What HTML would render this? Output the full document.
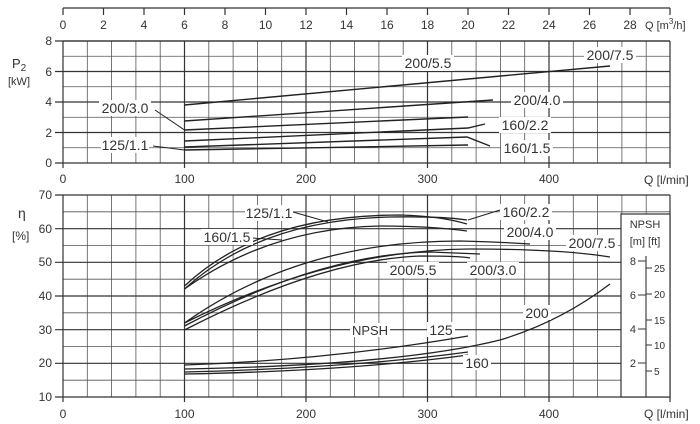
<!DOCTYPE html>
<html><head><meta charset="utf-8"><style>
html,body{margin:0;padding:0;background:#fff}
svg{display:block}
text{font-family:"Liberation Sans",sans-serif;fill:#333}
</style></head><body>
<svg width="700" height="424" viewBox="0 0 700 424" xmlns="http://www.w3.org/2000/svg">
<rect width="700" height="424" fill="#fff"/>
<g stroke="#555" stroke-width="0.8" fill="none">
<path d="M87.3 41V163M111.6 41V163M135.9 41V163M160.2 41V163M208.8 41V163M233.1 41V163M257.4 41V163M281.7 41V163M330.3 41V163M354.6 41V163M378.9 41V163M403.2 41V163M451.8 41V163M476.1 41V163M500.4 41V163M524.7 41V163M573.3 41V163M597.6 41V163M621.9 41V163M646.2 41V163"/>
<path d="M87.3 195V397M111.6 195V397M135.9 195V397M160.2 195V397M208.8 195V397M233.1 195V397M257.4 195V397M281.7 195V397M330.3 195V397M354.6 195V397M378.9 195V397M403.2 195V397M451.8 195V397M476.1 195V397M500.4 195V397M524.7 195V397M573.3 195V397M597.6 195V397M621.9 195V397M646.2 195V397"/>
<path d="M63 56.25H670M63 86.75H670M63 117.25H670M63 147.75H670"/>
<path d="M63 211.8H670M63 245.5H670M63 279.2H670M63 312.8H670M63 346.5H670M63 380.2H670"/>
</g>
<g stroke="#333" stroke-width="1.2" fill="none">
<path d="M184.5 41V163M306 41V163M427.5 41V163M549 41V163M670 41V163M63 41H670"/>
<path d="M55 41H670M55 71.5H670M55 102H670M55 132.5H670M55 163H670M63 41V168"/>
<path d="M184.5 195V402M306 195V397M427.5 195V397M549 195V402M670 195V402M63 195V402M306 397V402M427.5 397V402"/>
<path d="M55 195H670M55 228.7H670M55 262.3H670M55 296H670M55 329.7H670M55 363.3H670M55 397H670"/>
<path d="M184.5 163V168M306 163V168M427.5 163V168M549 163V168M670 163V168"/>
<path d="M63 8H670M63 8V15M103.5 8V15M144 8V15M184.5 8V15M225 8V15M265.5 8V15M306 8V15M346.5 8V15M387 8V15M427.5 8V15M468 8V15M508.5 8V15M549 8V15M589.5 8V15M630 8V15M670 8V15"/>
</g>
<g font-size="12" text-anchor="middle">
<text x="63" y="29">0</text><text x="103.5" y="29">2</text><text x="144" y="29">4</text><text x="184.5" y="29">6</text><text x="225" y="29">8</text><text x="265.5" y="29">10</text><text x="306" y="29">12</text><text x="346.5" y="29">14</text><text x="387" y="29">16</text><text x="427.5" y="29">18</text><text x="468" y="29">20</text><text x="508.5" y="29">22</text><text x="549" y="29">24</text><text x="589.5" y="29">26</text><text x="630" y="29">28</text>
<text x="63" y="183">0</text><text x="184.5" y="183">100</text><text x="306" y="183">200</text><text x="427.5" y="183">300</text><text x="549" y="183">400</text>
<text x="63" y="418">0</text><text x="184.5" y="418">100</text><text x="306" y="418">200</text><text x="427.5" y="418">300</text><text x="549" y="418">400</text>
</g>
<g font-size="12" text-anchor="end">
<text x="52" y="45">8</text><text x="52" y="76">6</text><text x="52" y="106">4</text><text x="52" y="137">2</text><text x="52" y="167">0</text>
<text x="52" y="199">70</text><text x="52" y="233">60</text><text x="52" y="266">50</text><text x="52" y="300">40</text><text x="52" y="334">30</text><text x="52" y="367">20</text><text x="52" y="401">10</text>
</g>
<text x="645" y="29" font-size="11">Q [m<tspan dy="-5" font-size="8">3</tspan><tspan dy="5">/h]</tspan></text>
<text x="644" y="184" font-size="12">Q [l/min]</text>
<text x="644" y="418" font-size="12">Q [l/min]</text>
<text x="12" y="68" font-size="13">P<tspan font-size="10" dy="3">2</tspan></text>
<text x="8" y="85" font-size="11">[kW]</text>
<text x="18" y="218" font-size="14">η</text>
<text x="12" y="240" font-size="12">[%]</text>
<g stroke="#222" stroke-width="1.4" fill="none">
<path d="M184.5 105L610 66"/>
<path d="M184.5 121L493 100"/>
<path d="M184.5 130L468 117"/>
<path d="M184.5 141L468 128L485 124"/>
<path d="M184.5 147L467 137L490 146"/>
<path d="M184.5 150L468 145"/>
<path d="M155 110L184.5 130M153 146L184.5 150" stroke-width="1"/>
</g>
<g stroke="#222" stroke-width="1.3" fill="none">
<path d="M184.5 286Q260 215 400 215Q440 216 467 224"/>
<path d="M184.5 289Q260 220 390 217Q440 216 467 220"/>
<path d="M184.5 289Q270 228 380 226Q430 226 467 231"/>
<path d="M184.5 323Q300 241 460 241Q500 242 530 244"/>
<path d="M184.5 323Q330 250 470 249Q560 249 610 257"/>
<path d="M184.5 326Q320 254 430 252L480 254"/>
<path d="M184.5 330Q320 260 420 256Q460 256 470 258"/>
</g>
<g stroke="#222" stroke-width="1.3" fill="none">
<path d="M184.5 365Q330 360 468 336"/>
<path d="M184.5 372Q350 368 468 352"/>
<path d="M184.5 374Q350 371 468 355"/>
<path d="M184.5 369Q400 365 500 340Q560 322 610 284"/>
</g>
<g stroke="#222" stroke-width="1" fill="none">
<path d="M293 212L328 222M253 238L282 240M500 210L468 220"/>
</g>
<g font-size="14" text-anchor="middle">
<rect x="402" y="55" width="52" height="16" fill="#fff"/><text x="428" y="68">200/5.5</text>
<rect x="584" y="47" width="52" height="16" fill="#fff"/><text x="610" y="60">200/7.5</text>
<rect x="99" y="100" width="52" height="16" fill="#fff"/><text x="125" y="113">200/3.0</text>
<rect x="101" y="137" width="48" height="16" fill="#fff"/><text x="125" y="150">125/1.1</text>
<rect x="511" y="92" width="52" height="16" fill="#fff"/><text x="537" y="105">200/4.0</text>
<rect x="499" y="117" width="52" height="16" fill="#fff"/><text x="525" y="130">160/2.2</text>
<rect x="501" y="140" width="52" height="16" fill="#fff"/><text x="527" y="153">160/1.5</text>
<rect x="245" y="205" width="48" height="16" fill="#fff"/><text x="269" y="218">125/1.1</text>
<rect x="201" y="229" width="52" height="16" fill="#fff"/><text x="227" y="242">160/1.5</text>
<rect x="500" y="204" width="52" height="16" fill="#fff"/><text x="526" y="217">160/2.2</text>
<rect x="504" y="224" width="52" height="16" fill="#fff"/><text x="530" y="237">200/4.0</text>
<rect x="566" y="235" width="52" height="16" fill="#fff"/><text x="592" y="248">200/7.5</text>
<rect x="387" y="262" width="52" height="16" fill="#fff"/><text x="413" y="275">200/5.5</text>
<rect x="467" y="262" width="52" height="16" fill="#fff"/><text x="493" y="275">200/3.0</text>
<rect x="350" y="323" width="40" height="14" fill="#fff"/><text x="370" y="335" font-size="13">NPSH</text>
<rect x="427" y="322" width="28" height="15" fill="#fff"/><text x="441" y="335">125</text>
<rect x="523" y="305" width="28" height="15" fill="#fff"/><text x="537" y="318">200</text>
<rect x="463" y="355" width="28" height="15" fill="#fff"/><text x="477" y="368">160</text>
</g>
<rect x="621" y="214" width="49" height="183" fill="#fff" stroke="#333" stroke-width="1.2"/>
<g stroke="#333" stroke-width="1.1">
<path d="M646 256V397M638 261H646M638 295H646M638 329H646M638 363H646M646 268H652M646 294H652M646 320H652M646 345H652M646 371H652"/>
</g>
<text x="645" y="228" font-size="11" text-anchor="middle">NPSH</text>
<text x="645" y="245" font-size="11" text-anchor="middle">[m] [ft]</text>
<g font-size="11" text-anchor="end"><text x="636" y="265">8</text><text x="636" y="299">6</text><text x="636" y="333">4</text><text x="636" y="367">2</text></g>
<g font-size="10"><text x="654" y="272">25</text><text x="654" y="298">20</text><text x="654" y="324">15</text><text x="654" y="349">10</text><text x="654" y="375">5</text></g>
</svg>
</body></html>
